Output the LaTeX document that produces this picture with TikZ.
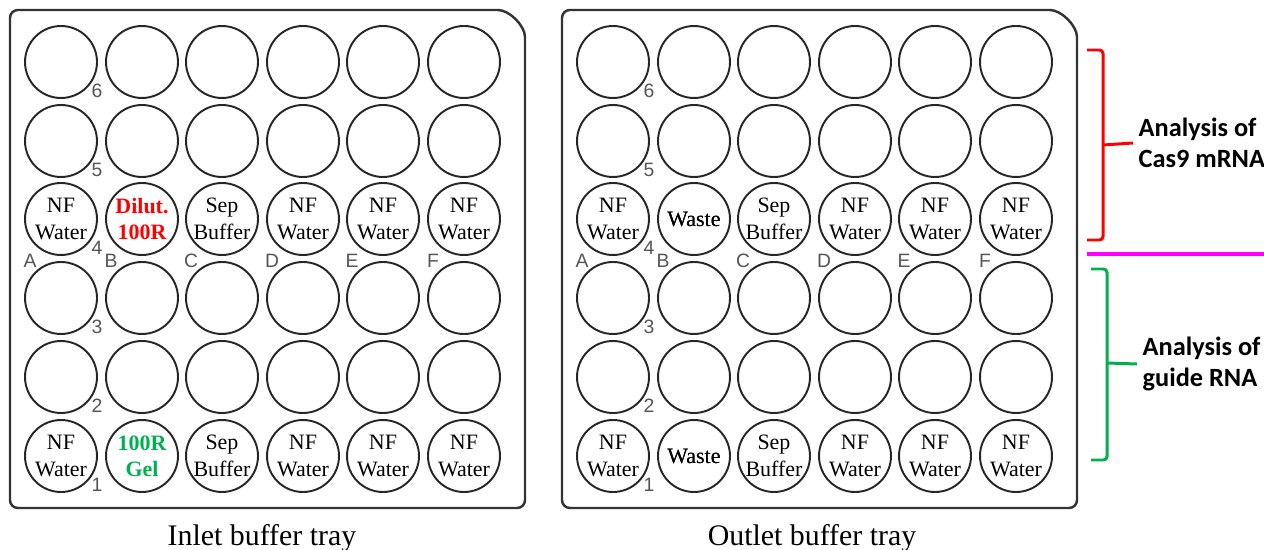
\documentclass[tikz,border=0pt]{standalone}
\usepackage{fontspec}
\setmainfont{Liberation Serif}
\newfontfamily\idxfont{Liberation Sans}
\newfontfamily\notefont{Carlito}
\definecolor{mixred}{HTML}{FF0000}
\definecolor{mixgreen}{HTML}{00B050}
\definecolor{divider}{HTML}{FF00FF}
\definecolor{idxgray}{HTML}{555555}

\begin{document}
\begin{tikzpicture}[x=0.02cm, y=-0.02cm]
    % Define basic styles
    \tikzset{
        well/.style={circle, draw=black!85, line width=1.1pt, minimum size=1.44cm, inner sep=0pt},
        wtext/.style={align=center, font=\fontsize{12.5}{15}\selectfont, inner sep=0pt},
        idx/.style={text=idxgray, font=\idxfont\fontsize{11}{11}\selectfont, inner sep=0pt},
        tray/.style={draw=black!80, line width=1.4pt, rounded corners=4.5pt},
        caption/.style={font=\fontsize{17}{17}\selectfont, anchor=base},
        brace/.style={line width=1.7pt, rounded corners=2pt},
        note/.style={align=left, anchor=west, inner xsep=3pt, font=\notefont\bfseries\fontsize{15}{18}\selectfont}
    }
    \useasboundingbox (0,0) rectangle (1264,550);

    % Tray outlines (inlet, outlet)
    \foreach \o in {0,552} {
        \draw[tray] (10+\o,300) -- (10+\o,10) -- (490+\o,10)
            .. controls (509.3+\o,10) and (525+\o,25.7) .. (525+\o,45)
            -- (525+\o,508) -- (10+\o,508) -- cycle;
    }

    % Wells
    \foreach \c/\x in {A/61,B/142,C/222,D/303,E/383,F/464} {
        \foreach \r/\y in {6/62,5/141,4/219,3/298,2/377,1/456} {
            \node[well] (in-\c\r) at (\x,\y) {};
            \node[well] (out-\c\r) at (\x+552,\y) {};
        }
    }

    % Row numbers and column letters
    \foreach \t in {in,out} {
        \foreach \r in {1,...,6}
            \node[idx] (\t-num\r) at ([shift={(36,29)}]\t-A\r) {\r};
        \foreach \c in {A,...,F}
            \node[idx] (\t-let\c) at ([shift={(-31,42)}]\t-\c4) {\c};
    }

    % Well contents
    \foreach \t in {in,out} {
        \foreach \r in {4,1} {
            \foreach \c in {A,D,E,F}
                \node[wtext] (\t-\c\r-txt) at (\t-\c\r) {NF\\Water};
            \node[wtext] (\t-C\r-txt) at (\t-C\r) {Sep\\Buffer};
            \node[wtext] (out-B\r-txt) at (out-B\r) {Waste};
        }
    }
    \node[wtext, text=mixred, font=\bfseries\fontsize{12.5}{15}\selectfont] (in-B4-txt) at (in-B4) {Dilut.\\100R};
    \node[wtext, text=mixgreen, font=\bfseries\fontsize{12.5}{15}\selectfont] (in-B1-txt) at (in-B1) {100R\\Gel};

    % Captions
    \node[caption] (inlet) at (262,545) {Inlet buffer tray};
    \node[caption] (outlet) at (812,545) {Outlet buffer tray};

    % Analysis brackets
    \node[note] (cas9) at (1133,143) {Analysis of\\Cas9 mRNA};
    \node[note] (guide) at (1137,364) {Analysis of\\guide RNA};

    \draw[brace, mixred] (1087,50) -- (1103,50) -- (1103,240) -- (1087,240);
    \draw[mixred, line width=1.7pt] (1103,145) -- (cas9.west);

    \draw[divider, line width=2pt] (1087,254) -- (1270,254);

    \draw[brace, mixgreen] (1091,269) -- (1107,269) -- (1107,460) -- (1091,460);
    \draw[mixgreen, line width=1.7pt] (1107,363) -- (guide.west);
\end{tikzpicture}
\end{document}
